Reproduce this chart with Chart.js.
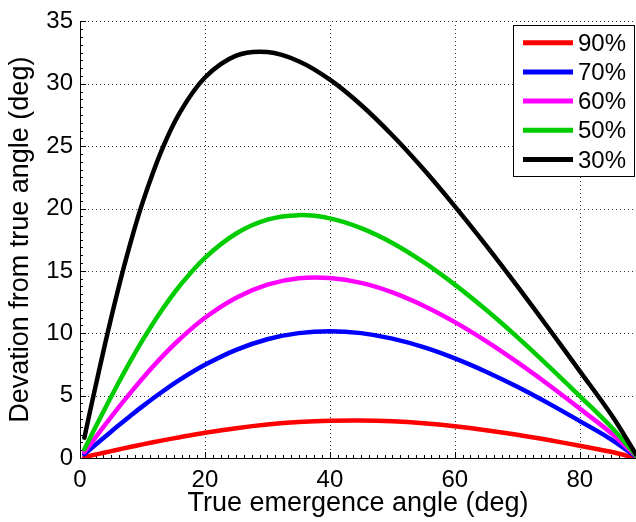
<!DOCTYPE html>
<html>
<head>
<meta charset="utf-8">
<script src="https://cdn.jsdelivr.net/npm/chart.js@4/dist/chart.umd.min.js"></script>
<style>
  html, body { margin: 0; padding: 0; background: #fff; }
  #wrap { width: 636px; height: 522px; }
</style>
</head>
<body>
<div id="wrap"><canvas id="chart" width="636" height="522"></canvas></div>
<script>
// true emergence angle (deg)
const angles = [0.7, 2, 4, 6, 8, 10, 13, 16, 20, 25, 30, 35, 40, 45, 50, 55, 60, 65, 70, 75, 80, 85, 89];

// deviation from true angle (deg), one list per curve
const dev90 = [0.08, 0.22, 0.44, 0.66, 0.88, 1.09, 1.39, 1.67, 2.02, 2.39, 2.68, 2.88, 2.99, 3.01, 2.94, 2.78, 2.54, 2.23, 1.86, 1.44, 0.98, 0.50, 0.0];
const dev70 = [0.30, 0.86, 1.70, 2.54, 3.35, 4.14, 5.25, 6.28, 7.47, 8.67, 9.52, 10.01, 10.17, 10.01, 9.57, 8.89, 7.99, 6.92, 5.71, 4.38, 2.96, 1.50, 0.1];
const dev60 = [0.47, 1.33, 2.65, 3.94, 5.18, 6.38, 8.05, 9.54, 11.24, 12.85, 13.90, 14.41, 14.43, 14.04, 13.28, 12.21, 10.89, 9.37, 7.68, 5.87, 3.96, 2.00, 0.15];
const dev50 = [0.70, 2.00, 3.96, 5.87, 7.70, 9.43, 11.78, 13.83, 16.05, 18.00, 19.11, 19.47, 19.21, 18.43, 17.24, 15.70, 13.90, 11.88, 9.69, 7.37, 4.96, 2.50, 0.2];
const dev30 = [1.63, 4.64, 9.12, 13.31, 17.10, 20.45, 24.58, 27.71, 30.50, 32.25, 32.54, 31.81, 30.33, 28.30, 25.87, 23.14, 20.17, 17.04, 13.77, 10.40, 6.97, 3.50, 0.3];

const seriesLabels = ['90%', '70%', '60%', '50%', '30%'];
const seriesColors = ['#ff0000', '#0000ff', '#ff00ff', '#00cc00', '#000000'];
const seriesValues = [dev90, dev70, dev60, dev50, dev30];

const xMax = 89, yMax = 35;
const FONT = "'Liberation Sans', Arial, sans-serif";

const datasets = seriesValues.map((vals, i) => ({
    label: seriesLabels[i],
    data: angles.map((a, j) => ({ x: a, y: vals[j] })),
    borderColor: seriesColors[i],
    backgroundColor: seriesColors[i],
    borderWidth: 4.5,
    pointRadius: 0,
    tension: 0.35,
    borderCapStyle: 'round',
    borderJoinStyle: 'round',
    order: seriesValues.length - i
}));

// matlab-ish axes: dotted grid, inward ticks, boxed legend
const matlabAxes = {
    id: 'matlabAxes',
    beforeDatasetsDraw(chart) {
        const { ctx, chartArea: a, scales: { x, y } } = chart;
        ctx.save();
        ctx.strokeStyle = '#333';
        ctx.lineWidth = 1;
        ctx.setLineDash([1, 3]);
        ctx.beginPath();
        for (let v = 20; v <= xMax; v += 20) {
            const px = Math.round(x.getPixelForValue(v)) + 0.5;
            ctx.moveTo(px, a.bottom); ctx.lineTo(px, a.top);
        }
        for (let v = 5; v <= yMax; v += 5) {
            const py = Math.round(y.getPixelForValue(v)) + 0.5;
            ctx.moveTo(a.left, py); ctx.lineTo(a.right, py);
        }
        ctx.stroke();
        ctx.setLineDash([]);
        ctx.strokeStyle = '#000';
        ctx.beginPath();
        for (let k = 0; k * 1.25 <= xMax; k++) {
            const px = Math.round(x.getPixelForValue(k * 1.25)) + 0.5;
            const len = k % 16 === 0 ? 6 : 3;
            ctx.moveTo(px, a.bottom); ctx.lineTo(px, a.bottom - len);
        }
        for (let k = 0; k * 0.625 <= yMax; k++) {
            const py = Math.round(y.getPixelForValue(k * 0.625)) + 0.5;
            const len = k % 8 === 0 ? 6 : 3;
            ctx.moveTo(a.left, py); ctx.lineTo(a.left + len, py);
        }
        ctx.stroke();
        ctx.restore();
    },
    afterDraw(chart) {
        const ctx = chart.ctx;
        const bx = 513, by = 25, bw = 121, bh = 151;
        ctx.save();
        ctx.fillStyle = '#fff';
        ctx.fillRect(bx, by, bw, bh);
        ctx.strokeStyle = '#000';
        ctx.lineWidth = 1;
        ctx.strokeRect(bx + 0.5, by + 0.5, bw, bh);
        ctx.font = '24px ' + FONT;
        ctx.textBaseline = 'middle';
        chart.data.datasets.forEach((ds, i) => {
            const ry = 42.7 + i * 29.2;
            ctx.strokeStyle = ds.borderColor;
            ctx.lineWidth = 5;
            ctx.beginPath();
            ctx.moveTo(523, ry); ctx.lineTo(573, ry);
            ctx.stroke();
            ctx.fillStyle = '#000';
            ctx.fillText(ds.label, 578, ry + 1.5);
        });
        ctx.restore();
    }
};

new Chart(document.getElementById('chart'), {
    type: 'line',
    data: { datasets },
    plugins: [matlabAxes],
    options: {
        responsive: false,
        animation: false,
        layout: { padding: { top: 17, right: 0, left: 0, bottom: 0 } },
        plugins: { legend: { display: false }, tooltip: { enabled: false } },
        scales: {
            x: {
                type: 'linear',
                min: 0, max: xMax,
                grid: { display: false, drawTicks: false },
                border: { display: true, color: '#000', width: 1 },
                ticks: { stepSize: 20, includeBounds: false, color: '#000', padding: 8, maxRotation: 0,
                         font: { family: FONT, size: 24 } },
                title: { display: true, text: 'True emergence angle (deg)', color: '#000',
                         font: { family: FONT, size: 27 }, padding: { top: 0, bottom: 2 } },
                afterFit(s) { s.height = 64; }
            },
            y: {
                type: 'linear',
                min: 0, max: yMax,
                grid: { display: false, drawTicks: false },
                border: { display: true, color: '#000', width: 1 },
                ticks: { stepSize: 5, color: '#000', padding: 7,
                         font: { family: FONT, size: 24 } },
                title: { display: true, text: 'Devation from true angle (deg)', color: '#000',
                         font: { family: FONT, size: 27 }, padding: { top: 4, bottom: 0 } },
                afterFit(s) { s.width = 80; }
            }
        }
    }
});
</script>
</body>
</html>
